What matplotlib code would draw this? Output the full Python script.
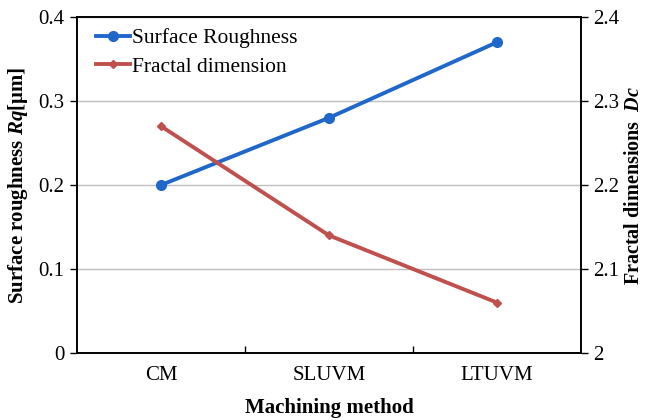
import matplotlib
matplotlib.use("Agg")
import matplotlib.pyplot as plt
from matplotlib.lines import Line2D

plt.rcParams["font.family"] = ["Liberation Serif", "DejaVu Serif"]
plt.rcParams["mathtext.fontset"] = "custom"
plt.rcParams["mathtext.it"] = "Liberation Serif:italic:bold"
plt.rcParams["mathtext.rm"] = "Liberation Serif:bold"

methods = ["CM", "SLUVM", "LTUVM"]
roughness = [0.20, 0.28, 0.37]
fractal = [2.27, 2.14, 2.06]

blue = "#1F68C9"
red = "#C0504D"

fig = plt.figure(figsize=(6.45, 4.2), dpi=100)
ax = fig.add_axes([0.1194, 0.1595, 0.7814, 0.80])
ax2 = ax.twinx()

x = range(len(methods))
ax.plot(x, roughness, color=blue, linewidth=2.8, marker="o", markersize=7, zorder=3)
ax2.plot(x, fractal, color=red, linewidth=2.8, marker="D", markersize=4.5, zorder=3)

ax.set_xlim(-0.5, 2.5)
ax.set_ylim(0, 0.4)
ax.set_yticks([0, 0.1, 0.2, 0.3, 0.4])
ax.set_yticklabels(["0", "0.1", "0.2", "0.3", "0.4"])
ax2.set_ylim(2.0, 2.4)
ax2.set_yticks([2.0, 2.1, 2.2, 2.3, 2.4])
ax2.set_yticklabels(["2", "2.1", "2.2", "2.3", "2.4"])

ax.set_xticks(list(x))
ax.set_xticklabels(methods)
ax.set_xticks([0.5, 1.5], minor=True)
ax.tick_params(axis="x", which="major", length=0, labelsize=15, pad=9)
ax.tick_params(axis="x", which="minor", direction="in", length=5, width=1)
ax.tick_params(axis="y", direction="out", length=5, width=1, labelsize=15, pad=4)
ax2.tick_params(axis="y", direction="out", length=5, width=1, labelsize=15, pad=4)

ax.grid(axis="y", color="#BFBFBF", linewidth=1)
ax.set_axisbelow(True)
for a in (ax, ax2):
    for s in a.spines.values():
        s.set_linewidth(1.2)
        s.set_color("black")

ax.set_xlabel("Machining method", fontsize=15, fontweight="bold", labelpad=10)
ax.set_ylabel("Surface roughness $Rq$[μm]", fontsize=15, fontweight="bold", labelpad=6)
ax2.set_ylabel("Fractal dimensions  $Dc$", fontsize=14.5, fontweight="bold", labelpad=3)

handles = [
    Line2D([], [], color=blue, linewidth=2.8, marker="o", markersize=7),
    Line2D([], [], color=red, linewidth=2.8, marker="D", markersize=4.5),
]
ax.legend(handles, ["Surface Roughness", "Fractal dimension"], loc="upper left",
          bbox_to_anchor=(0.0, 1.025), frameon=False, fontsize=15.5,
          handlelength=1.55, handletextpad=0.1, labelspacing=0.4)

fig.savefig("out.png", dpi=100)
